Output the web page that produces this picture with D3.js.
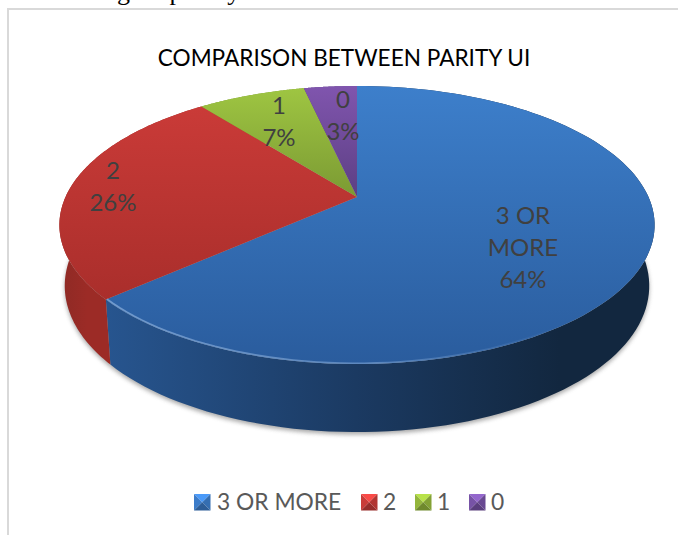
<!DOCTYPE html>
<html><head><meta charset="utf-8">
<script src="https://cdn.jsdelivr.net/npm/d3@7/dist/d3.min.js"></script>
<style>html,body{margin:0;padding:0;background:#fff;overflow:hidden}svg{display:block}</style>
</head><body><svg id="c" width="678" height="535"></svg>
<script>
const categories = ["3 OR MORE", "2", "1", "0"];
const values = [63.4, 26, 7.1, 3.5];
const percentLabels = ["64%", "26%", "7%", "3%"];
const titleText = "COMPARISON BETWEEN PARITY UI";
const topStops = [["#3d7fcb","#2a5c9d"],["#cd3c39","#9f2a27"],["#9fc642","#7b9a33"],["#8055ae","#5c3f83"]];
const sideStops = [["#27558f","#1b3a62","#12273f"],["#8e2a25","#9c2b26","#9c2b26"],["#7b9a33","#7b9a33","#7b9a33"],["#5c3f83","#5c3f83","#5c3f83"]];
const swatchBase = ["#3a78c2","#c23a37","#8fb03a","#7350a0"];

const svg = d3.select("#c");
const defs = svg.append("defs");

// perspective disc geometry
const cx = 357, apexY = 197, rx = 291.5, ry = 133.4, k = 0.2015;
const project = (a, r = 1) => {
  const u = Math.sin(a) * r, v = -Math.cos(a) * r, w = 1 - k * v;
  return [cx + rx * u / w, apexY + ry * v / w];
};
const lower = ([x, y], a) => [cx + (x - cx) * 0.982, y + 59 + 9 * (-Math.cos(a))];

const arcs = d3.pie().sort(null).value(d => d)(values);
const arcAngles = d => d3.range(0, 121).map(i => d.startAngle + (d.endAngle - d.startAngle) * i / 120);
const line = d3.line();

// frame and clipped line of page text
svg.append("rect").attr("x", 7).attr("y", 8).attr("width", 671).attr("height", 2).attr("fill", "#d9d9d9");
svg.append("rect").attr("x", 7).attr("y", 8).attr("width", 2).attr("height", 527).attr("fill", "#d9d9d9");
svg.append("text").attr("x", 117).attr("y", -0.5)
  .attr("font-family", "Liberation Serif").attr("font-size", 26)
  .attr("letter-spacing", 2).attr("word-spacing", 29).attr("fill", "#000").text("g parity");

// gradients
arcs.forEach((d, i) => {
  const t = defs.append("linearGradient").attr("id", "top" + i).attr("gradientUnits", "userSpaceOnUse")
    .attr("x1", 0).attr("x2", 0).attr("y1", 86).attr("y2", i < 2 ? 364 : 197);
  t.append("stop").attr("offset", 0).attr("stop-color", topStops[i][0]);
  t.append("stop").attr("offset", 1).attr("stop-color", topStops[i][1]);
  const s = defs.append("linearGradient").attr("id", "side" + i).attr("gradientUnits", "userSpaceOnUse")
    .attr("x1", i === 1 ? 60 : 105).attr("x2", i === 1 ? 110 : 560).attr("y1", 0).attr("y2", 0);
  s.append("stop").attr("offset", 0).attr("stop-color", sideStops[i][0]);
  s.append("stop").attr("offset", 0.55).attr("stop-color", sideStops[i][1]);
  s.append("stop").attr("offset", 1).attr("stop-color", sideStops[i][2]);
});
const rimGrad = defs.append("linearGradient").attr("id", "rimGrad").attr("gradientUnits", "userSpaceOnUse")
  .attr("x1", 100).attr("x2", 560).attr("y1", 0).attr("y2", 0);
rimGrad.append("stop").attr("offset", 0).attr("stop-color", "#a8c8ee").attr("stop-opacity", 0.55);
rimGrad.append("stop").attr("offset", 0.6).attr("stop-color", "#a8c8ee").attr("stop-opacity", 0.4);
rimGrad.append("stop").attr("offset", 1).attr("stop-color", "#a8c8ee").attr("stop-opacity", 0);
const blur = defs.append("filter").attr("id", "blur").attr("x", "-10%").attr("y", "-10%").attr("width", "120%").attr("height", "120%");
blur.append("feGaussianBlur").attr("stdDeviation", 2.2);
const softBlur = defs.append("filter").attr("id", "soft").attr("x", "-10%").attr("y", "-10%").attr("width", "120%").attr("height", "120%");
softBlur.append("feGaussianBlur").attr("stdDeviation", 0.6);

// soft shadow under the disc
const ringAll = d3.range(0, 181).map(i => i / 180 * 2 * Math.PI);
svg.append("path").attr("filter", "url(#blur)").attr("fill", "#8c8c8c").attr("opacity", 0.75)
  .attr("d", line(ringAll.map(a => { const p = lower(project(a), a); return [p[0], p[1] + 2.5]; })) + "Z");

// sides
svg.selectAll("path.side").data(arcs).join("path").attr("class", "side")
  .attr("fill", (d, i) => `url(#side${i})`)
  .attr("d", d => {
    const as = arcAngles(d);
    return line(as.map(a => project(a)).concat(as.slice().reverse().map(a => lower(project(a), a)))) + "Z";
  });

// top faces
const facePath = d => line([[cx, apexY]].concat(arcAngles(d).map(a => project(a)))) + "Z";
svg.selectAll("path.face").data(arcs).join("path").attr("class", "face")
  .attr("fill", (d, i) => `url(#top${i})`).attr("d", facePath);

// bevel highlight on the front of the blue rim
svg.append("path").datum(arcs[0]).attr("fill", "none").attr("stroke", "url(#rimGrad)")
  .attr("stroke-width", 1.6).attr("filter", "url(#soft)")
  .attr("d", d => line(arcAngles(d).filter(a => a > 1.6).map(a => project(a, 0.996))));

// title
svg.append("text").attr("x", 344).attr("y", 66).attr("text-anchor", "middle")
  .attr("font-family", "Lato").attr("font-size", 22.6).attr("fill", "#000").text(titleText);

// data labels
const labelCenters = [[523, 248], [113, 187], [279, 122], [343, 116]];
const labelLines = categories.map((c, i) => (c === "3 OR MORE" ? ["3 OR", "MORE"] : [c]).concat(percentLabels[i]));
labelLines.forEach((ls, i) => {
  const t = svg.append("text").attr("text-anchor", "middle").attr("font-family", "Lato")
    .attr("font-size", 24).attr("fill", "#404040");
  ls.forEach((s, j) => t.append("tspan").attr("x", labelCenters[i][0])
    .attr("y", labelCenters[i][1] + 8 + (j - (ls.length - 1) / 2) * 32).text(s));
});

// legend
const swatchX = [194, 361, 415, 469], textX = [217, 383, 437, 491], sw = 16.5, swY = 494;
categories.forEach((c, i) => {
  const g = svg.append("g").attr("transform", `translate(${swatchX[i]},${swY})`);
  const base = d3.color(swatchBase[i]), m = sw / 2;
  [[[0,0],[sw,0],[m,m],base.brighter(0.7)], [[0,0],[0,sw],[m,m],base.brighter(0.1)],
   [[sw,0],[sw,sw],[m,m],base.darker(0.25)], [[0,sw],[sw,sw],[m,m],base.darker(0.7)]]
   .forEach(f => g.append("path").attr("d", line(f.slice(0, 3)) + "Z").attr("fill", f[3]));
  svg.append("text").attr("x", textX[i]).attr("y", 510).attr("font-family", "Lato")
    .attr("font-size", 22.8).attr("fill", "#595959").text(c);
});
</script></body></html>
